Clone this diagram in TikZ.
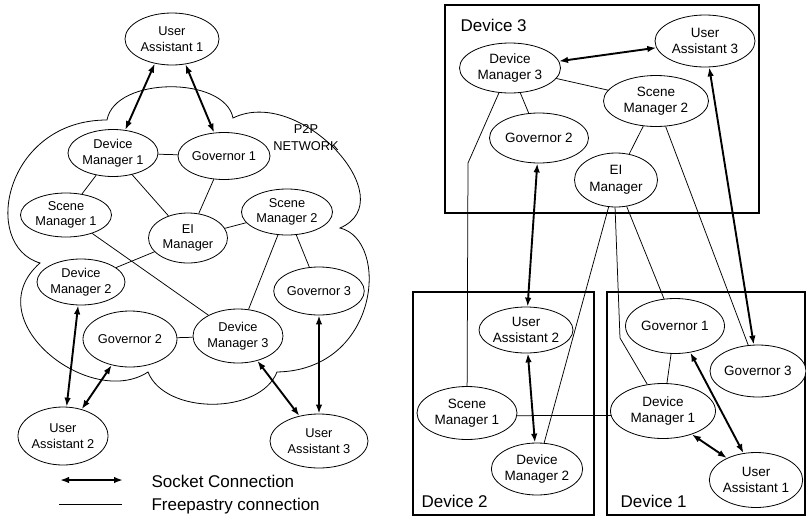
\documentclass[tikz,border=0pt]{standalone}
\usepackage{fontspec}
\setmainfont{Liberation Sans}
\usetikzlibrary{shapes.geometric,arrows.meta}

\tikzset{
  agent/.style={draw, ellipse, fill=white, inner sep=0pt, align=center,
    line width=0.8pt, font=\fontsize{12.8}{15.5}\selectfont},
  bigagent/.style={agent, font=\fontsize{13.5}{16.5}\selectfont},
  sz/.style 2 args={minimum width=#1pt, minimum height=#2pt},
  sock/.style={{Latex[length=9pt,width=6.5pt]}-{Latex[length=9pt,width=6.5pt]}, line width=1.9pt},
  pastry/.style={line width=0.75pt},
  devbox/.style={draw, line width=1.5pt},
  biglabel/.style={font=\fontsize{17}{20}\selectfont}
}

\begin{document}
\begin{tikzpicture}[x=1pt,y=-1pt]
    \useasboundingbox (0,0) rectangle (806,517);

    % P2P cloud
    \draw[line width=0.8pt] (107,120) .. controls (115,76) and (225,76) .. (233,118)
      .. controls (300,85) and (405,200) .. (340,228)
      .. controls (390,240) and (380,370) .. (277,372)
      .. controls (260,415) and (165,415) .. (148,372)
      .. controls (90,410) and (-25,320) .. (40,263)
      .. controls (-20,245) and (5,120) .. cycle;
    \node[font=\fontsize{12.8}{17}\selectfont, align=center] (p2p) at (306,138) {P2P\\NETWORK};

    % Left: peers in the network
    \node[agent, sz={94}{52}] (ua1L) at (172,39) {User\\Assistant 1};
    \node[agent, sz={90}{47}] (dm1L) at (113,153) {Device\\Manager 1};
    \node[agent, sz={92}{47}] (gov1L) at (224,156) {Governor 1};
    \node[agent, sz={91}{44}] (sm1L) at (66,215) {Scene\\Manager 1};
    \node[agent, sz={79}{50}] (eiL) at (188,238) {EI\\Manager};
    \node[agent, sz={91}{46}] (sm2L) at (287,212) {Scene\\Manager 2};
    \node[agent, sz={88}{46}] (dm2L) at (81,282) {Device\\Manager 2};
    \node[agent, sz={94}{56}] (gov2L) at (130,339) {Governor 2};
    \node[agent, sz={90}{54}] (dm3L) at (238,336) {Device\\Manager 3};
    \node[agent, sz={90}{48}] (gov3L) at (319,291) {Governor 3};
    \node[agent, sz={90}{58}] (ua2L) at (63,436) {User\\Assistant 2};
    \node[agent, sz={98}{54}] (ua3L) at (319,441) {User\\Assistant 3};

    % Freepastry links
    \draw[pastry] (dm1L) -- (gov1L);
    \draw[pastry] (dm1L) -- (sm1L);
    \draw[pastry] (dm1L) -- (eiL);
    \draw[pastry] (gov1L) -- (eiL);
    \draw[pastry] (eiL) -- (sm2L);
    \draw[pastry] (sm1L) -- (dm3L);
    \draw[pastry] (eiL) -- (dm2L);
    \draw[pastry] (sm2L) -- (dm3L);
    \draw[pastry] (sm2L) -- (gov3L);
    \draw[pastry] (gov2L) -- (dm3L);

    % Socket links
    \draw[sock] (ua1L.235) -- (dm1L.62);
    \draw[sock] (ua1L.298) -- (gov1L.113);
    \draw[sock] (dm2L.263) -- (ua2L.83);
    \draw[sock] (gov2L.235) -- (ua2L.55);
    \draw[sock] (dm3L.308) -- (ua3L.128);
    \draw[sock] (gov3L) -- (ua3L);

    % Legend
    \coordinate (sockA) at (60,480);
    \coordinate (sockB) at (123,480);
    \draw[sock] (sockA) -- (sockB);
    \node[biglabel, anchor=base west] (socktxt) at (148,487) {Socket Connection};
    \coordinate (fpA) at (59,504);
    \coordinate (fpB) at (122,504);
    \draw[pastry] (fpA) -- (fpB);
    \node[biglabel, anchor=base west] (fptxt) at (148,510) {Freepastry connection};

    % Right: devices
    \draw[devbox] (445,5) rectangle (759,213);
    \draw[devbox] (413,292) rectangle (594,515);
    \draw[devbox] (607,292) rectangle (805,515);
    \node[biglabel, anchor=base west] (dev3) at (457,31) {Device 3};
    \node[biglabel, anchor=base west] (dev2) at (418,507) {Device 2};
    \node[biglabel, anchor=base west] (dev1) at (617,507) {Device 1};

    \node[bigagent, sz={100}{52}] (ua3R) at (705,41) {User\\Assistant 3};
    \node[bigagent, sz={101}{50}] (dm3R) at (510,68) {Device\\Manager 3};
    \node[bigagent, sz={105}{51}] (sm2R) at (656,101) {Scene\\Manager 2};
    \node[bigagent, sz={99}{50}] (gov2R) at (539,138) {Governor 2};
    \node[bigagent, sz={83}{54}] (eiR) at (616,180) {EI\\Manager};
    \node[bigagent, sz={94}{46}] (ua2R) at (526,330) {User\\Assistant 2};
    \node[bigagent, sz={100}{53}] (sm1R) at (467,413) {Scene\\Manager 1};
    \node[bigagent, sz={90}{52}] (dm2R) at (537,469) {Device\\Manager 2};
    \node[bigagent, sz={99}{55}] (gov1R) at (675,326) {Governor 1};
    \node[bigagent, sz={96}{52}] (gov3R) at (758,371) {Governor 3};
    \node[bigagent, sz={105}{55}] (dm1R) at (663,411) {Device\\Manager 1};
    \node[bigagent, sz={92}{55}] (ua1R) at (756,480) {User\\Assistant 1};

    % Freepastry links across devices
    \coordinate (bendSM) at (468,163);
    \coordinate (bendDM) at (620,338);
    \draw[pastry] (dm3R) -- (sm2R);
    \draw[pastry] (dm3R) -- (gov2R);
    \draw[pastry] (dm3R.246) -- (bendSM) -- (sm1R);
    \draw[pastry] (sm2R) -- (eiR);
    \draw[pastry] (sm2R) -- (gov3R);
    \draw[pastry] (eiR) -- (dm2R);
    \draw[pastry] (eiR.268) -- (bendDM) -- (dm1R);
    \draw[pastry] (eiR) -- (gov1R);
    \draw[pastry] (gov1R) -- (dm1R);
    \draw[pastry] (sm1R.-3) -- (dm1R.185);

    % Socket links across devices
    \draw[sock] (dm3R) -- (ua3R);
    \draw[sock] (ua3R) -- (gov3R);
    \draw[sock] (gov2R) -- (ua2R);
    \draw[sock] (ua2R) -- (dm2R);
    \draw[sock] (gov1R.300) -- (ua1R.115);
    \draw[sock] (dm1R.321) -- (ua1R.143);
\end{tikzpicture}
\end{document}
